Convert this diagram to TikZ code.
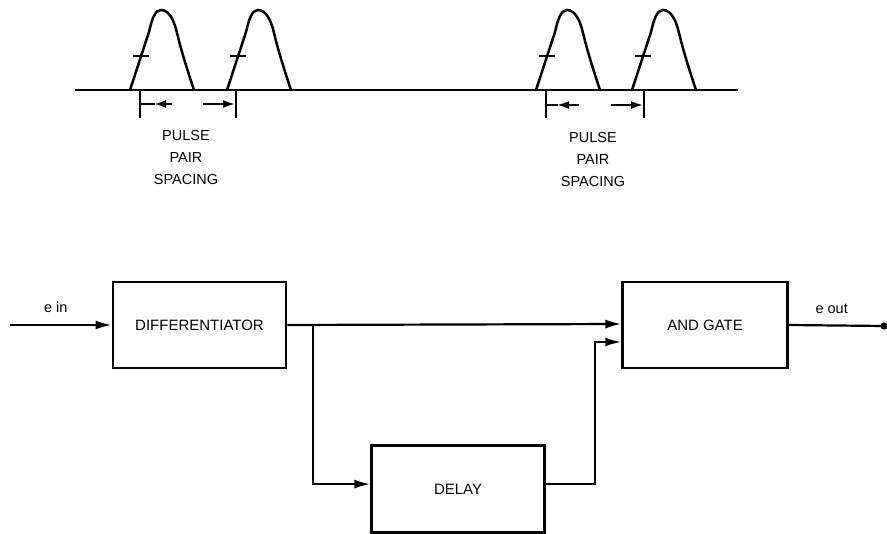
\documentclass[tikz,border=0pt]{standalone}
\usepackage{fontspec}
\setmainfont{Liberation Sans}
\usetikzlibrary{arrows.meta,positioning,calc}

\begin{document}
\begin{tikzpicture}[x=1pt,y=-1pt,node distance=75pt and 83pt,
    block/.style={draw,line width=2.6pt,minimum height=86pt,inner sep=0pt,
      font=\fontsize{15}{18}\selectfont},
    lbl/.style={font=\fontsize{14.5}{22}\selectfont,align=center,inner sep=0pt},
    sig/.style={line width=2.2pt,-{Latex[length=16pt,width=9pt]}},
    dim/.style={line width=2pt,-{Latex[length=12pt,width=8pt]}}]
  \useasboundingbox (0,0) rectangle (887,534);

  % pulse train
  \draw[line width=2.2pt] (75,90) -- (738,90);
  \foreach \s in {130,227,536,632} {
    \begin{scope}[shift={(\s,90)},line width=2.5pt]
      \draw (0,0) -- (19,-58) .. controls (22,-71) and (25,-80) .. (31,-80)
        .. controls (39,-80) and (44,-70) .. (47,-57)
        .. controls (51,-40) and (58,-18) .. (64,0);
      \draw (3,-34) -- (19,-34);
    \end{scope}
  }

  % spacing marks
  \coordinate (barA1) at (140,90);
  \coordinate (barA2) at (236,90);
  \coordinate (barB1) at (546,90);
  \coordinate (barB2) at (644,90);
  \foreach \b in {barA1,barA2,barB1,barB2}
    \draw[line width=2.2pt] (\b) -- ++(0,28);
  \draw[line width=2pt] ($(barA1)+(0,14)$) -- ++(15,0);
  \draw[dim] ($(barA1)+(32,14)$) -- ($(barA1)+(14,14)$);
  \draw[dim] ($(barA2)+(-33,14)$) -- ($(barA2)+(-1,14)$);
  \draw[line width=2pt] ($(barB1)+(0,15)$) -- ++(12,0);
  \draw[dim] ($(barB1)+(33,15)$) -- ($(barB1)+(11,15)$);
  \draw[dim] ($(barB2)+(-33,15)$) -- ($(barB2)+(-1,15)$);

  \node[lbl] (spacingA) at (186,158) {PULSE\\PAIR\\SPACING};
  \node[lbl] (spacingB) at (593,160) {PULSE\\PAIR\\SPACING};

  % block diagram
  \node[block,minimum width=173pt] (diff) at (199.5,325) {DIFFERENTIATOR};
  \node[block,minimum width=165pt,right=334pt of diff] (andgate) {AND GATE};
  \node[block,minimum width=173pt,minimum height=87pt,
    below right=75pt and 83pt of diff.south east,anchor=north west] (delay) {DELAY};

  \coordinate (ein) at (10,325);
  \coordinate (eout) at (884,326);
  \coordinate (split) at ($(diff.east)+(26,0)$);
  \coordinate (fb) at ($(delay.east)+(49,-5)$);

  \node[lbl,above=12pt of $(ein)!0.45!(diff.west)$] (einlabel) {e in};
  \node[lbl,above=12pt of $(andgate.east)!0.45!(eout)$] (eoutlabel) {e out};

  \draw[sig] (ein) -- (diff.west);
  \draw[sig] (diff.east) -- ([yshift=1pt]andgate.west);
  \draw[sig] (split) |- ([yshift=5pt]delay.west);
  \draw[sig] ([yshift=5pt]delay.east) -- (fb) |- ([yshift=-17pt]andgate.west);
  \draw[line width=2.2pt] (andgate.east) -- (eout);
  \fill (eout) circle (3.6pt);
\end{tikzpicture}
\end{document}
